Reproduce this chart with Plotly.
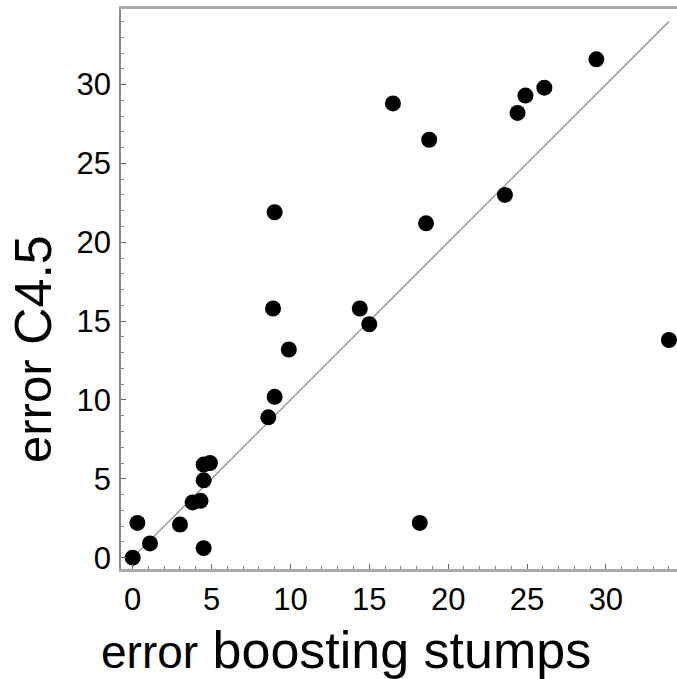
#!/usr/bin/env python3
"""
Scatter of C4.5 error against boosting-stumps error, with the y = x reference line.
"""

import plotly.graph_objects as go

# error of boosting stumps (x) and of C4.5 (y), one point per data set
stumps_error = [0.0, 0.3, 1.1, 3.0, 3.8, 4.3, 4.5, 4.5, 4.5, 4.9,
                8.6, 9.0, 8.9, 9.9, 9.0, 14.4, 15.0, 16.5, 18.2, 18.6,
                18.8, 23.6, 24.4, 24.9, 26.1, 29.4, 34.0]
c45_error = [0.0, 2.2, 0.9, 2.1, 3.5, 3.6, 0.6, 4.9, 5.9, 6.0,
             8.9, 10.2, 15.8, 13.2, 21.9, 15.8, 14.8, 28.8, 2.2, 21.2,
             26.5, 23.0, 28.2, 29.3, 29.8, 31.6, 13.8]

# y = x diagonal
diag = [0, 34]

tick_vals = [0, 5, 10, 15, 20, 25, 30]

FONT = "Liberation Sans, Arial, Helvetica, sans-serif"

fig = go.Figure()

fig.add_trace(go.Scatter(
    x=diag,
    y=diag,
    mode='lines',
    line=dict(color='#8c8c8c', width=1.3),
    hoverinfo='skip',
    showlegend=False,
))

fig.add_trace(go.Scatter(
    x=stumps_error,
    y=c45_error,
    mode='markers',
    marker=dict(color='black', size=16, line=dict(width=0)),
    showlegend=False,
    cliponaxis=True,
))

axis_common = dict(
    tickmode='array',
    tickvals=tick_vals,
    ticks='inside',
    ticklen=5,
    tickwidth=1,
    tickcolor='#666666',
    showgrid=False,
    zeroline=False,
    showline=True,
    automargin=False,
    tickfont=dict(family=FONT, size=31, color='black'),
    minor=dict(dtick=1, ticks='inside', ticklen=3, tickcolor='#888888', showgrid=False),
)

fig.update_xaxes(
    **axis_common,
    range=[-0.74, 34.51],
    linecolor='#aaaaaa',
    linewidth=3,
    mirror=True,
    ticklabelstandoff=1,
)
fig.update_yaxes(
    **axis_common,
    range=[-0.72, 34.79],
    linecolor='#888888',
    linewidth=1.5,
    ticklabelstandoff=2,
)

fig.add_annotation(
    text="<span style='font-size:46px'>error</span> boosting stumps",
    xref='paper', yref='paper',
    x=(346 - 121) / 556, y=(569 - 650) / 560,
    xanchor='center', yanchor='middle',
    showarrow=False,
    font=dict(family=FONT, size=52, color='black'),
)
fig.add_annotation(
    text="<span style='font-size:49px'>error</span> C4.5",
    xref='paper', yref='paper',
    x=(33 - 121) / 556, y=(569 - 349) / 560,
    xanchor='center', yanchor='middle',
    textangle=-90,
    showarrow=False,
    font=dict(family=FONT, size=52, color='black'),
)

fig.update_layout(
    width=677,
    height=679,
    margin=dict(l=121, r=0, t=9, b=110),
    paper_bgcolor='white',
    plot_bgcolor='white',
    font=dict(family=FONT, color='black'),
)

# drop the default body margin so the figure fills the window without scrollbars
fig.write_html(
    "out.html",
    config={'displayModeBar': False},
    post_script="document.body.style.margin='0';document.body.style.overflow='hidden';",
)
